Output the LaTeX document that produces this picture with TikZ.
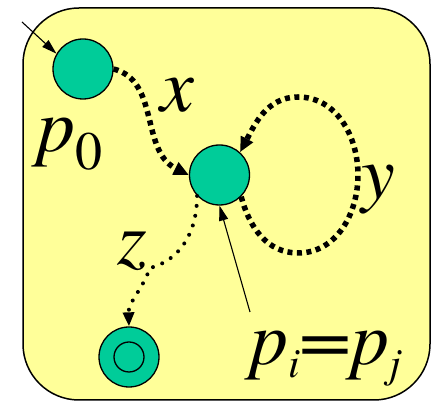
\documentclass[tikz,border=0pt]{standalone}
\usepackage{fontspec}
\newfontfamily\lblfont{texgyretermes}[Extension=.otf, UprightFont=*-regular, ItalicFont=*-italic]
\usetikzlibrary{arrows.meta}
\definecolor{padyellow}{RGB}{255,255,153}
\definecolor{stategreen}{RGB}{0,204,153}
\newcommand{\lowsub}[3]{\raisebox{-#1}{\fontsize{#2}{#2}\selectfont #3}}

\begin{document}
\begin{tikzpicture}[
    x=1pt, y=1pt,
    state/.style={circle, draw, fill=stategreen, line width=1.3pt, minimum size=60pt, inner sep=0pt},
    bigdots/.style={line width=5.5pt, dash pattern=on 5pt off 4.5pt, -{Triangle[length=15pt,width=13pt]}},
    smalldots/.style={line width=4pt, line cap=round, dash pattern=on 0pt off 10pt, -{Triangle[length=14pt,width=11pt]}},
    pointer/.style={line width=1.1pt, -{Triangle[length=15pt,width=9pt]}},
    lbl/.style={font=\fontsize{76}{76}\lblfont\itshape, inner sep=0pt}
]
    \useasboundingbox (0,0) rectangle (432,401);

    % Background pad
    \draw[fill=padyellow, line width=1.5pt, rounded corners=56pt] (23,1) rectangle (430,393);

    % States
    \node[state] (s_init) at (83,332) {};
    \node[state] (s_mid) at (219.5,226) {};
    \node[state] (s_final) at (129,44) {};
    \draw[line width=1.3pt] (s_final.center) circle[radius=15];

    % Entry arrow
    \coordinate (entry) at (22,379);
    \draw[pointer] (entry) -- (s_init.150);

    % Transitions
    \draw[bigdots] (s_init.east) .. controls (160,320) and (140,250) .. (s_mid.west);
    \draw[bigdots] (s_mid.-45) to[out=-75,in=180] (298,148) to[out=0,in=-90] (358,226)
        to[out=90,in=0] (298,304) to[out=180,in=62] (s_mid.48);
    \coordinate (zbend) at (150,133);
    \draw[smalldots] (s_mid.-137) to[out=-90,in=15] (zbend) to[out=-110,in=92] (s_final.north);

    % Pointer to the repeated state
    \coordinate (eqfoot) at (250,89);
    \draw[pointer] (eqfoot) -- (s_mid.south);

    % Labels
    \node[lbl, anchor=base west] (lbl_x) at (160,289) {x};
    \node[lbl, anchor=base west] (lbl_y) at (361,202) {y};
    \node[lbl, anchor=base west] (lbl_z) at (117,136) {z};
    \node[lbl, anchor=base west] (lbl_p0) at (37,249) {p\lowsub{18pt}{54}{\upshape 0}};
    \node[lbl, anchor=base west] (lbl_pij) at (250,36) {p\lowsub{13pt}{42}{i}=p\lowsub{13pt}{42}{j}};
\end{tikzpicture}
\end{document}
